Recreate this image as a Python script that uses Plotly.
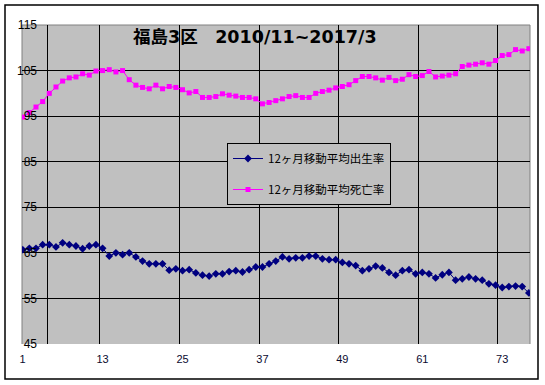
import plotly.graph_objects as go

months = list(range(1, 78))

birth_rate = [
    65.7, 66.0, 66.0, 66.8, 66.8, 66.3, 67.2, 66.8, 66.5, 65.9,
    66.5, 66.8, 66.0, 64.3, 65.0, 64.6, 65.0, 64.1, 63.2, 62.6,
    62.6, 62.6, 61.2, 61.5, 61.1, 61.3, 60.6, 60.1, 59.9, 60.4,
    60.4, 60.9, 61.1, 60.8, 61.3, 61.9, 61.9, 62.6, 63.2, 64.1,
    63.7, 63.9, 63.9, 64.3, 64.3, 63.7, 63.5, 63.5, 62.9, 62.6,
    62.2, 61.1, 61.5, 62.1, 61.7, 60.7, 60.1, 61.1, 61.3, 60.4,
    60.7, 60.4, 59.5, 60.2, 60.7, 59.0, 59.3, 59.7, 59.3, 59.0,
    58.2, 57.9, 57.4, 57.6, 57.7, 57.6, 56.2,
]

death_rate = [
    94.8, 95.8, 97.0, 98.2, 100.0, 101.4, 102.7, 103.4, 103.6, 104.3,
    104.0, 104.9, 105.0, 105.2, 104.7, 105.0, 103.0, 101.8, 101.3, 101.0,
    101.8, 101.0, 101.5, 101.3, 100.8, 100.1, 100.4, 99.1, 99.1, 99.3,
    99.9, 99.6, 99.4, 99.1, 99.1, 98.8, 97.7, 98.0, 98.4, 98.8,
    99.3, 99.5, 99.1, 99.1, 100.0, 100.4, 100.7, 101.2, 101.5, 101.9,
    102.8, 103.7, 103.7, 103.4, 102.9, 103.5, 102.8, 103.1, 104.1, 103.7,
    103.9, 104.8, 103.6, 103.8, 104.0, 104.3, 105.9, 106.2, 106.4, 106.7,
    106.4, 107.2, 108.3, 108.5, 109.6, 109.3, 109.8,
]

x_tick_vals = [1, 13, 25, 37, 49, 61, 73]
x_tick_text = ["1", "13", "25", "37", "49", "61", "73"]
x_grid_vals = [4.8, 12.6, 24.6, 36.6, 48.4, 60.4, 72.3]
y_tick_vals = [45, 55, 65, 75, 85, 95, 105, 115]

title_text = "福島3区　2010/11~2017/3"
name_birth = "12ヶ月移動平均出生率"
name_death = "12ヶ月移動平均死亡率"

fig = go.Figure()
fig.add_trace(go.Scatter(
    x=months, y=birth_rate, name=name_birth, mode="lines+markers",
    line=dict(color="#000080", width=1),
    marker=dict(symbol="diamond", size=6, color="#000080"),
    legendgroup="a",
))
fig.add_trace(go.Scatter(
    x=months, y=death_rate, name=name_death, mode="lines+markers",
    line=dict(color="#FF00FF", width=1),
    marker=dict(symbol="square", size=5, color="#FF00FF"),
    legendgroup="b",
))

L, R, T, B = 22, 15, 25, 41
W, H = 545, 385
pw = W - L - R
ph = H - T - B

def px_x(px):
    return (px - L) / pw

def px_y(py):
    return (H - B - py) / ph

fig.update_layout(
    width=W, height=H,
    margin=dict(l=L, r=R, t=T, b=B, autoexpand=False),
    paper_bgcolor="white",
    plot_bgcolor="#C0C0C0",
    font=dict(family="Liberation Sans, Arial, Noto Sans CJK JP", color="black"),
    showlegend=True,
    legend=dict(
        x=px_x(227), y=px_y(143), xanchor="left", yanchor="top",
        bgcolor="#C0C0C0", bordercolor="black", borderwidth=1,
        font=dict(family="Noto Sans CJK JP", size=11.5, color="black"),
        traceorder="grouped", tracegroupgap=12,
    ),
    xaxis=dict(
        range=[0.9, 77.17],
        tickmode="array", tickvals=x_tick_vals, ticktext=x_tick_text,
        showgrid=False, zeroline=False, showline=False, ticks="",
        tickfont=dict(size=11, color="#0a0a30", family="Liberation Sans, Arial"),
        ticklabelstandoff=7,
        minor=dict(tickmode="array", tickvals=x_grid_vals, showgrid=True,
                   gridcolor="black", gridwidth=1, ticks=""),
    ),
    yaxis=dict(
        range=[45, 115],
        tickmode="array", tickvals=y_tick_vals,
        showgrid=True, gridcolor="black", gridwidth=1,
        zeroline=False, showline=False, ticks="",
        tickfont=dict(size=12, color="black", family="Liberation Sans, Arial"),
        ticklabelstandoff=-16,
    ),
    shapes=[
        dict(type="line", xref="paper", yref="paper", x0=0, x1=0, y0=0, y1=1,
             line=dict(color="#808080", width=1), layer="between"),
        dict(type="line", xref="paper", yref="paper", x0=0, x1=1, y0=1, y1=1,
             line=dict(color="#808080", width=1), layer="between"),
        dict(type="line", xref="paper", yref="paper", x0=1, x1=1, y0=0, y1=1,
             line=dict(color="#808080", width=1), layer="between"),
        dict(type="rect", xref="paper", yref="paper",
             x0=px_x(5), x1=px_x(538), y0=px_y(379), y1=px_y(5),
             line=dict(color="black", width=1.5), fillcolor="rgba(0,0,0,0)",
             layer="above"),
    ],
    annotations=[
        dict(text="<b>" + title_text + "</b>", xref="paper", yref="paper",
             x=px_x(255), y=px_y(37), xanchor="center", yanchor="middle",
             showarrow=False,
             font=dict(family="DejaVu Sans, Noto Sans CJK JP", size=17.5, color="black")),
    ],
)

fig.write_html("out.html", config={"displayModeBar": False},
               post_script="document.body.style.margin='0';")
